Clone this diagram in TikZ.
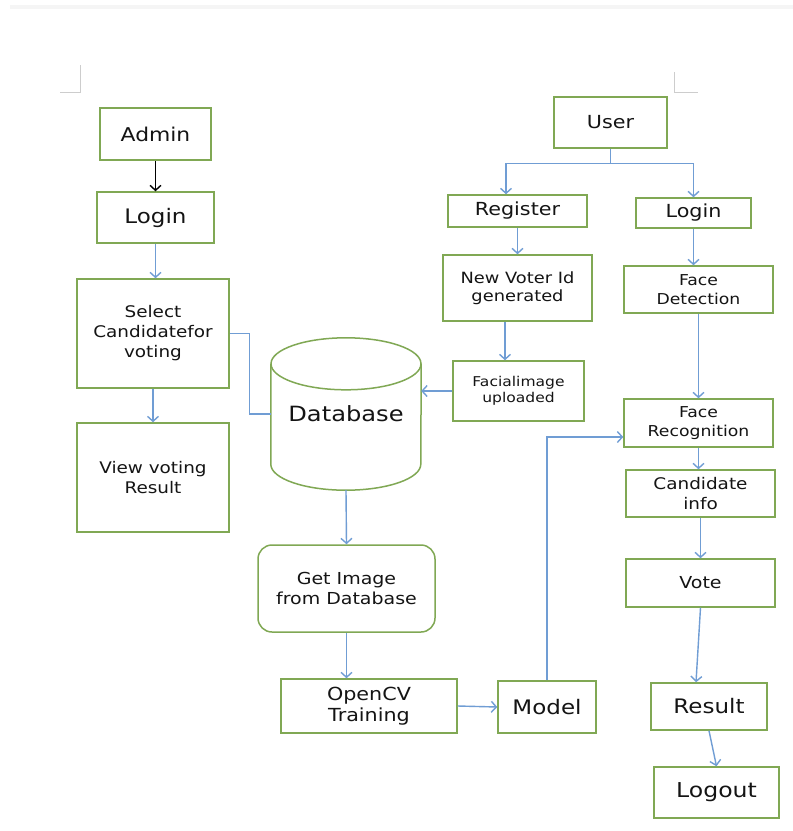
\documentclass[tikz,border=0pt]{standalone}
\usepackage{fontspec}
\setmainfont{DejaVu Sans}[FakeStretch=1.15]
\usetikzlibrary{arrows.meta}
\definecolor{boxgreen}{RGB}{128,168,84}
\definecolor{arrblue}{RGB}{112,157,212}
\definecolor{txtgray}{RGB}{20,20,20}
\definecolor{markgray}{RGB}{205,205,205}

\begin{document}
\begin{tikzpicture}[x=1pt,y=1pt,
        box/.style={draw=boxgreen, line width=1.5pt, text=txtgray, align=center, inner sep=0pt},
        fnt/.style 2 args={font=\fontsize{#1}{#2}\selectfont},
        arr/.style={draw=arrblue, line width=1.4pt, -{Straight Barb[length=5pt,width=11pt]}},
        link/.style={draw=arrblue, line width=1.4pt}]
    \fill[white] (0,0) rectangle (793,-831);
    % page marks
    \fill[black!4] (10,-5) rectangle (793,-9);
    \draw[markgray, line width=1pt] (60,-92) -- (80,-92) -- (80,-65);
    \draw[markgray, line width=1pt] (674,-72) -- (674,-92) -- (698,-92);

    % admin side
    \node[box, fnt={19}{23}, minimum width=111pt, minimum height=52pt] (admin) at (155.5,-134) {Admin};
    \node[box, fnt={20}{24}, minimum width=117pt, minimum height=51pt] (loginA) at (155.5,-217.5) {Login};
    \node[box, fnt={16}{20}, minimum width=152pt, minimum height=109pt] (select) at (153,-333.5) {Select\\Candidatefor\\voting};
    \node[box, fnt={16}{20}, minimum width=152pt, minimum height=109pt] (view) at (153,-477.5) {View voting\\Result};

    % database
    \node[text=txtgray, fnt={21}{25}, minimum width=150pt, minimum height=100pt, inner sep=0pt] (db) at (346,-414) {\raisebox{-12pt}{Database}};
    \draw[draw=boxgreen, line width=1.5pt] (db.north west) -- (db.south west)
        arc[start angle=180, end angle=360, x radius=75pt, y radius=26pt] -- (db.north east);
    \draw[draw=boxgreen, line width=1.5pt] (db.north) ellipse[x radius=75pt, y radius=26pt];
    \node[box, fnt={16.5}{20}, minimum width=177pt, minimum height=87pt, rounded corners=14pt] (getimg) at (346.5,-588.5) {Get Image\\from Database};
    \node[box, fnt={18}{21}, minimum width=176pt, minimum height=54pt] (opencv) at (369,-706) {OpenCV\\Training};
    \node[box, fnt={20}{24}, minimum width=98pt, minimum height=52pt] (model) at (547,-707) {Model};

    % user side
    \node[box, fnt={18}{22}, minimum width=113pt, minimum height=51pt] (user) at (610.5,-122.5) {User};
    \node[box, fnt={18}{22}, minimum width=139pt, minimum height=32pt] (register) at (517.5,-211) {Register};
    \node[box, fnt={18}{22}, minimum width=115pt, minimum height=30pt] (loginU) at (693.5,-213) {Login};
    \node[box, fnt={15.5}{18}, minimum width=149pt, minimum height=66pt] (voterid) at (517.5,-288) {New Voter Id\\generated};
    \node[box, fnt={15}{19}, minimum width=149pt, minimum height=47pt] (facedet) at (698.5,-289.5) {Face\\Detection};
    \node[box, fnt={13.5}{16.5}, minimum width=131pt, minimum height=60pt] (facial) at (518.5,-391) {Facialimage\\uploaded};
    \node[box, fnt={15}{18.5}, minimum width=149pt, minimum height=48pt] (facerec) at (698.5,-423) {Face\\Recognition};
    \node[box, fnt={16}{19.5}, minimum width=149pt, minimum height=47pt] (candinfo) at (700.5,-493.5) {Candidate\\info};
    \node[box, fnt={16.5}{20}, minimum width=149pt, minimum height=48pt] (vote) at (700.5,-583) {Vote};
    \node[box, fnt={20}{24}, minimum width=116pt, minimum height=47pt] (result) at (709,-706.5) {Result};
    \node[box, fnt={20.5}{24}, minimum width=125pt, minimum height=51pt] (logout) at (716.5,-792.5) {Logout};

    % connectors
    \draw[arr, draw=black] (admin) -- (loginA);
    \draw[arr] (loginA.south) -- (loginA.south |- select.north);
    \draw[arr] (select) -- (view);
    \draw[link] (select.east) -- ++(20,0) |- (db.west);
    \draw[arr] (facial.west) -- (facial.west -| db.east);
    \draw[arr] ([yshift=-26pt]db.south) -- (getimg.north);
    \draw[arr] (getimg.south) -- (getimg.south |- opencv.north);
    \draw[arr] (opencv.east) -- (model.west);
    \draw[arr] (model.north) |- ([yshift=-14pt]facerec.west);

    \draw[link] (user.south) -- ++(0,-15) coordinate (split);
    \draw[arr] (split) -| ([xshift=-11.5pt]register.north);
    \draw[arr] (split) -| (loginU.north);
    \draw[arr] (register) -- (voterid);
    \draw[arr] (loginU.south) -- (loginU.south |- facedet.north);
    \draw[arr] ([xshift=-12.5pt]voterid.south) -- ([xshift=-12.5pt]voterid.south |- facial.north);
    \draw[arr] (facedet) -- (facerec);
    \draw[arr] (facerec.south) -- (facerec.south |- candinfo.north);
    \draw[arr] (candinfo) -- (vote);
    \draw[arr] (vote.south) -- ([xshift=-13pt]result.north);
    \draw[arr] (result.south) -- (logout.north);
\end{tikzpicture}
\end{document}
